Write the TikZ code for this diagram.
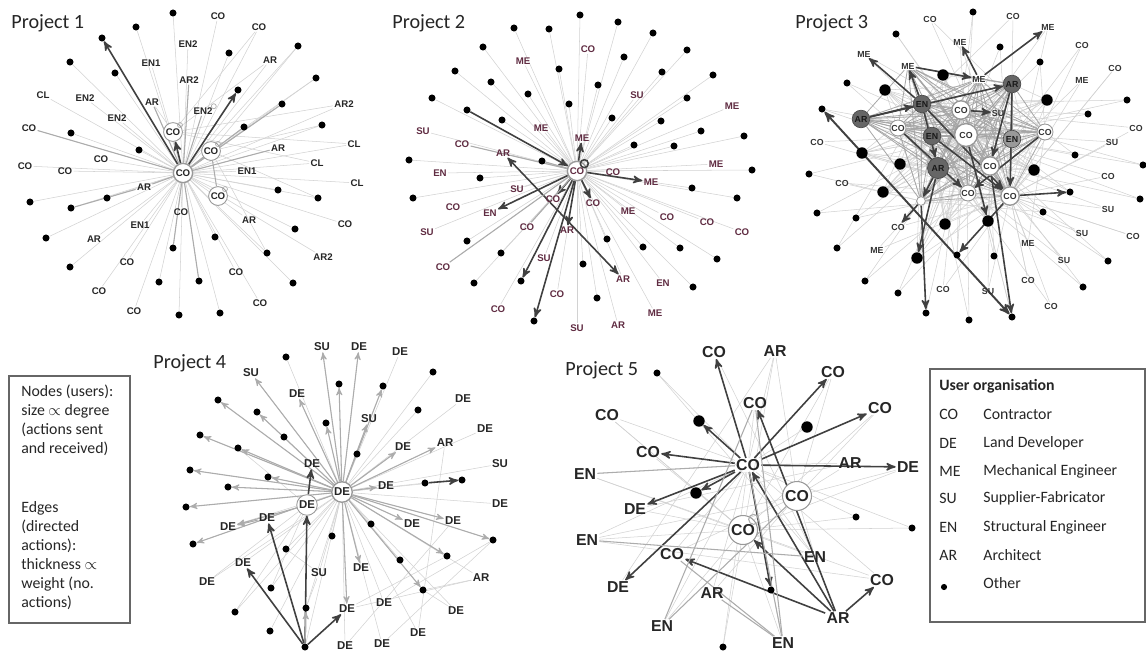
\documentclass[tikz,border=0pt]{standalone}
\usepackage{fontspec}
\setmainfont{Carlito}
\newfontfamily\labfont{Liberation Sans}
\usepackage{amsmath,amssymb}
\usetikzlibrary{arrows}
\definecolor{meplum}{RGB}{96,44,66}
\pgfdeclarelayer{bg}
\pgfdeclarelayer{lite}
\pgfdeclarelayer{heavy}
\pgfsetlayers{bg,lite,heavy,main}
\tikzset{
  >=stealth',
  dot/.style={circle,fill=black,inner sep=0pt,minimum size=4pt},
  bigdot/.style={dot,minimum size=6.5pt},
  labA/.style={font=\labfont\bfseries\fontsize{5.5}{5.5}\selectfont,inner sep=0.6pt,text=black!85},
  labB/.style={labA,text=meplum},
  labC/.style={font=\labfont\bfseries\fontsize{5}{5}\selectfont,inner sep=0.5pt,text=black!80},
  labD/.style={font=\labfont\bfseries\fontsize{6.5}{6.5}\selectfont,inner sep=0.6pt,text=black!85},
  labE/.style={font=\labfont\bfseries\fontsize{9}{9}\selectfont,inner sep=0.6pt,text=black!85},
  hubnode/.style={circle,draw=gray!80,fill=white,line width=0.8pt,inner sep=0.3pt},
  p3dark/.style={circle,fill=black!60,draw=black!70,inner sep=0.3pt,minimum size=10pt,labC,text=black!90},
  p3big/.style={hubnode,minimum size=13pt},
  p3mid/.style={hubnode,minimum size=10.5pt},
  p3small/.style={hubnode,line width=0.5pt},
  p3tiny/.style={hubnode,line width=0.5pt,minimum size=5pt},
  p3darkbig/.style={p3dark,minimum size=12pt},
  p3darklite/.style={p3dark,fill=black!40},
  p3plain/.style={},
  liteedge/.style={draw=gray!35,line width=0.3pt},
  midedge/.style={draw=gray!65,line width=0.6pt},
  midarrow/.style={midedge,->},
  heavyedge/.style={draw=black!75,line width=0.9pt,->},
  projtitle/.style={font=\fontsize{11.5}{12}\selectfont,anchor=west,inner sep=0pt,text=black!85},
  legtext/.style={font=\fontsize{9}{10.8}\selectfont,align=left,anchor=north west,inner sep=0pt,text=black!85},
  legbox/.style={draw=black!60,line width=0.7pt}
}
\begin{document}
\begin{tikzpicture}[x=0.02cm,y=-0.02cm]
\begin{pgfonlayer}{bg}
\fill[white] (0,0) rectangle (1146,653);
\end{pgfonlayer}
\useasboundingbox (0,0) rectangle (1146,653);
%%%%%%%%%%%%%%%% Project 1
\node[projtitle] (t1) at (11,23) {Project 1};
\node[hubnode,labA,minimum size=11pt] (p1hub) at (183,173) {CO};
\node[labA] (p1b) at (203,111) {EN2};
\node[hubnode,labA,line width=0.5pt] (p1c) at (173,132) {CO};
\node[hubnode,labA,line width=0.5pt] (p1e) at (211,151) {CO};
\node[hubnode,labA,line width=0.5pt] (p1f) at (218,196) {CO};
\foreach \x/\y [count=\i] in {173/13,136/27,102/38,70/62,115/73,229/53,298/46,238/90,
  316/78,282/104,244/127,322/125,71/133,139/150,30/202,71/208,107/198,278/190,318/198,
  46/238,215/237,173/248,295/229,267/253,70/267,159/282,199/281,293/283,179/315,220/313}
  \node[dot] (p1d\i) at (\x,\y) {};
\foreach \x/\y/\t [count=\i] in {218/16/CO,259/27/CO,188/44/EN2,151/63/EN1,270/60/AR,
  189/80/AR2,43/95/CL,85/98/EN2,152/102/AR,344/104/AR2,117/118/EN2,29/128/CO,278/148/AR,
  354/144/CL,25/166/CO,101/159/CO,65/171/CO,317/163/CL,247/171/EN1,357/183/CL,144/187/AR,
  181/212/CO,249/220/AR,345/224/CO,140/225/EN1,94/239/AR,323/257/AR2,127/262/CO,
  236/272/CO,99/291/CO,260/303/CO,134/311/CO}
  \node[labA] (p1l\i) at (\x,\y) {\t};
\begin{pgfonlayer}{lite}
\foreach \i in {1,...,30} \draw[liteedge] (p1hub) -- (p1d\i);
\foreach \i in {1,...,32} \draw[liteedge] (p1hub) -- (p1l\i);
\foreach \i in {2,5,9,10,14,18} \draw[liteedge] (p1c) -- (p1l\i);
\foreach \i in {7,9,12,19,24} \draw[liteedge] (p1e) -- (p1d\i);
\end{pgfonlayer}
\begin{pgfonlayer}{heavy}
\foreach \a/\b in {p1hub/p1d3,p1hub/p1c,p1hub/p1d8}
  \draw[heavyedge] (\a) -- (\b);
\foreach \a/\b in {p1hub/p1l6,p1hub/p1b,p1hub/p1l13,p1e/p1f,p1hub/p1d22,p1hub/p1d27,
  p1hub/p1l12,p1d16/p1l21,p1hub/p1e,p1hub/p1l9,p1hub/p1d10,p1hub/p1l21,p1hub/p1d11}
  \draw[midedge] (\a) -- (\b);
\end{pgfonlayer}
\draw[midedge,line width=0.4pt] (p1c.north east) circle[radius=2.5];
\draw[midedge,line width=0.4pt] (p1e.north east) circle[radius=2.5];
\draw[midedge,line width=0.4pt] (p1f.north east) circle[radius=2.5];
\draw[midedge,line width=0.4pt] (p1b.north east) circle[radius=2.5];
%%%%%%%%%%%%%%%% Project 2
\node[projtitle] (t2) at (392,23) {Project 2};
\node[hubnode,labB,minimum size=11pt] (p2hub) at (577,171) {CO};
\foreach \x/\y [count=\i] in {580/15,514/28,549/29,618/22,653/33,483/47,687/50,455/71,
  559/69,624/57,662/72,491/82,598/85,713/75,432/98,528/94,569/104,687/98,467/110,502/120,
  612/118,661/121,701/131,744/136,634/145,674/146,409/160,542/161,752/170,480/178,692/188,
  413/198,737/198,467/241,607/239,643/247,680/248,717/259,501/253,583/264,474/283,521/281,
  597/298,693/287,534/321}
  \node[dot] (p2d\i) at (\x,\y) {};
\foreach \x/\y/\t [count=\i] in {588/49/CO,523/61/ME,637/95/SU,732/106/ME,541/128/ME,
  423/131/SU,582/138/ME,462/144/CO,503/153/AR,716/164/ME,440/173/EN,613/172/CO,651/182/ME,
  517/189/SU,453/207/CO,490/213/EN,553/199/CO,593/203/CO,628/211/ME,667/217/CO,707/222/CO,
  742/232/CO,427/232/SU,527/227/CO,567/230/AR,544/258/SU,443/267/CO,623/279/AR,663/283/EN,
  557/294/CO,498/309/CO,655/313/ME,577/328/SU,618/325/AR}
  \node[labB] (p2l\i) at (\x,\y) {\t};
\begin{pgfonlayer}{lite}
\foreach \i in {1,...,45} \draw[liteedge] (p2hub) -- (p2d\i);
\foreach \i in {1,...,34} \draw[liteedge] (p2hub) -- (p2l\i);
\end{pgfonlayer}
\begin{pgfonlayer}{heavy}
\foreach \a/\b in {p2d19/p2hub,p2hub/p2l7,p2hub/p2l13,p2hub/p2l16,p2hub/p2d42,
  p2hub/p2d45,p2hub/p2l25,p2hub/p2l18,p2hub/p2l17}
  \draw[heavyedge] (\a) -- (\b);
\draw[heavyedge,<->] (p2l9) -- (p2l28);
\foreach \a/\b in {p2l8/p2hub,p2l27/p2hub,p2l24/p2hub,p2d28/p2hub}
  \draw[midedge] (\a) -- (\b);
\end{pgfonlayer}
\draw[heavyedge,-] (p2hub.north east) circle[radius=4];
%%%%%%%%%%%%%%%% Project 3
\node[projtitle] (t3) at (795,23) {Project 3};
\foreach \x/\y/\t/\s [count=\i] in {966/135/CO/p3big,961/110/CO/p3mid,990/166/CO/p3mid,
  1010/196/CO/p3mid,968/193/CO/p3small,1045/132/CO/p3small,898/128/CO/p3small,
  921/201/{}/p3tiny,922/104/EN/p3dark,932/136/EN/p3dark,938/168/AR/p3darkbig,
  1012/84/AR/p3dark,861/119/AR/p3dark,1012/139/EN/p3darklite,
  908/66/ME/p3plain,979/79/ME/p3plain,998/113/SU/p3plain}
  \node[labC,\s] (p3h\i) at (\x,\y) {\t};
\foreach \x/\y/\s [count=\i] in {973/12/dot,896/34/dot,1000/47/dot,943/75/bigdot,
  1040/62/dot,847/83/dot,885/90/bigdot,1127/100/dot,1047/100/bigdot,1088/114/dot,822/109/dot,
  862/153/bigdot,900/164/bigdot,1075/155/dot,1034/170/bigdot,809/174/dot,1143/165/dot,
  883/192/bigdot,1070/192/dot,1140/199/dot,817/213/dot,856/218/dot,945/224/bigdot,
  988/221/bigdot,1043/212/dot,837/248/dot,917/258/bigdot,957/255/dot,994/256/dot,
  1108/261/dot,865/281/dot,898/293/dot,1083/287/dot,926/313/dot,969/320/dot,1012/317/dot}
  \node[\s] (p3d\i) at (\x,\y) {};
\foreach \x/\y/\t [count=\i] in {930/19/CO,1013/16/CO,1048/27/ME,960/42/ME,864/54/ME,
  1082/45/CO,1115/68/CO,1082/80/ME,817/142/CO,1112/142/SU,842/183/CO,1108/176/CO,
  1136/128/CO,1108/209/SU,1133/236/CO,1082/233/SU,1028/243/ME,1064/260/SU,877/250/ME,
  898/227/CO,943/289/CO,988/291/SU,1028/280/CO,1051/306/CO}
  \node[labC] (p3l\i) at (\x,\y) {\t};
\begin{pgfonlayer}{lite}
\foreach \i in {1,...,36} {
  \pgfmathtruncatemacro\k{mod(\i,9)+1}
  \draw[liteedge] (p3h\k) -- (p3d\i);
  \draw[liteedge] (p3h1) -- (p3d\i);
}
\foreach \i in {1,...,24} {
  \pgfmathtruncatemacro\k{mod(\i+4,8)+1}
  \draw[liteedge] (p3h\k) -- (p3l\i);
  \draw[liteedge] (p3h4) -- (p3l\i);
}
\foreach \i in {4,7,9,12,13,15,18,23,24,27}
  \foreach \j in {1,2,3,4,9,10,11,12}
    \draw[liteedge] (p3h\j) -- (p3d\i);
\end{pgfonlayer}
\begin{pgfonlayer}{heavy}
\foreach \i in {1,...,17}
  \foreach \j in {\i,...,17} {
    \ifnum\i<\j \draw[midedge,line width=0.45pt,draw=gray!70] (p3h\i) -- (p3h\j); \fi
  }
\foreach \a/\b in {p3h9/p3l5,p3h15/p3h16,p3h16/p3l3,p3h16/p3l4,p3h9/p3h4,p3h13/p3h12,
  p3h11/p3h8,p3h8/p3d34,p3h8/p3l20,p3h12/p3h4,p3h4/p3d19,p3h9/p3h11,p3h10/p3h4,
  p3h13/p3h9,p3h2/p3h17,p3h4/p3d28,p3h1/p3d24,p3h11/p3d27,p3h9/p3h15,p3h12/p3h3,
  p3h7/p3h5,p3h6/p3h5,p3h3/p3d36}
  \draw[heavyedge] (\a) -- (\b);
\draw[heavyedge,<->,line width=1.1pt] (p3d11) -- (p3d36);
\end{pgfonlayer}
%%%%%%%%%%%%%%%% Project 4
\node[projtitle] (t4) at (153,363) {Project 4};
\node[hubnode,labD,minimum size=11pt] (p4hub) at (342,492) {DE};
\node[hubnode,labD,line width=0.5pt] (p4s1) at (307,505) {DE};
\node[labD] (p4s2) at (312,464) {DE};
\foreach \x/\y [count=\i] in {286/357,433/372,339/384,383/386,218/400,257/412,418/410,
  326/423,200/435,284/437,238/448,357/454,190/470,268/477,228/487,425/483,462/480,
  186/507,371/524,332/536,493/540,193/544,286/549,447/556,400/560,423/590,271/588,
  306/608,235/612,270/631,305/647}
  \node[dot] (p4d\i) at (\x,\y) {};
\foreach \x/\y/\t [count=\i] in {322/347/SU,359/347/DE,400/352/DE,251/373/SU,297/394/DE,
  463/399/DE,369/419/SU,485/429/DE,403/447/DE,445/443/AR,500/464/SU,386/486/DE,500/504/DE,
  267/518/DE,228/527/DE,412/524/DE,453/521/DE,243/563/DE,319/573/SU,361/568/DE,207/582/DE,
  481/578/AR,347/609/DE,384/603/DE,456/611/DE,418/633/DE,345/646/DE,382/644/DE}
  \node[labD] (p4l\i) at (\x,\y) {\t};
\begin{pgfonlayer}{lite}
\foreach \i in {1,...,31} \draw[liteedge] (p4hub) -- (p4d\i);
\foreach \i in {1,...,28} \draw[liteedge] (p4hub) -- (p4l\i);
\foreach \a/\b in {p4l23/p4l22,p4l23/p4d24,p4d26/p4l25,p4l19/p4d28,p4l28/p4d21,
  p4l27/p4l17,p4l26/p4l10,p4d26/p4l22,p4l24/p4d21,p4s1/p4d27,p4s1/p4d29,p4l21/p4s1,
  p4d6/p4s2,p4d11/p4s1,p4l19/p4d23}
  \draw[liteedge] (\a) -- (\b);
\end{pgfonlayer}
\begin{pgfonlayer}{heavy}
\foreach \b in {p4l1,p4l2,p4l4,p4l5,p4l7,p4l9,p4l10,p4l12,p4l16,p4l17,p4l20,p4l23,
  p4d3,p4d4,p4d5,p4d6,p4d9,p4d11,p4d13,p4d15,p4d18,p4d21,p4d24,p4d26,p4d22,p4d8,p4d14}
  \draw[midarrow] (p4hub) -- (\b);
\foreach \a/\b in {p4d31/p4l18,p4d31/p4l14,p4d31/p4s1,p4d31/p4l23,p4s1/p4s2,p4d16/p4d17}
  \draw[heavyedge] (\a) -- (\b);
\foreach \a/\b in {p4s1/p4l15,p4l14/p4l15,p4d31/p4d28}
  \draw[midarrow] (\a) -- (\b);
\end{pgfonlayer}
%%%%%%%%%%%%%%%% Project 5
\node[projtitle] (t5) at (565,370) {Project 5};
\node[labE] (p5hub) at (748,465) {CO};
\node[hubnode,labE,line width=0.6pt,minimum size=12pt] (p5c1) at (797,496) {CO};
\node[hubnode,labE,line width=0.6pt,minimum size=16pt] (p5c2) at (743,530) {CO};
\foreach \x/\y/\s [count=\i] in {657/373/dot,699/421/bigdot,807/427/bigdot,696/493/bigdot,
  856/517/dot,912/528/dot,771/590/dot,723/647/dot}
  \node[\s] (p5d\i) at (\x,\y) {};
\foreach \x/\y/\t [count=\i] in {714/352/CO,775/351/AR,833/372/CO,607/415/CO,755/403/CO,
  880/408/CO,648/452/CO,850/463/AR,908/467/DE,585/474/EN,635/509/DE,587/540/EN,672/554/CO,
  815/557/EN,618/587/DE,712/593/AR,882/580/CO,838/618/AR,662/626/EN,783/643/EN}
  \node[labE] (p5l\i) at (\x,\y) {\t};
\begin{pgfonlayer}{lite}
\foreach \i in {1,...,8} \draw[liteedge] (p5hub) -- (p5d\i);
\foreach \i in {1,...,20} \draw[liteedge] (p5hub) -- (p5l\i);
\foreach \i in {3,4,6,7,9,10,11,12,17,19,20} \draw[liteedge] (p5c2) -- (p5l\i);
\foreach \i in {2,3,6,8,9,12,13,14,16} \draw[liteedge] (p5c1) -- (p5l\i);
\foreach \a/\b in {p5l1/p5l14,p5l2/p5l15,p5d1/p5l14,p5l4/p5c2,p5c2/p5d5,p5c2/p5d6,
  p5l10/p5l14,p5l12/p5l17,p5l8/p5l11,p5l2/p5d8}
  \draw[liteedge] (\a) -- (\b);
\end{pgfonlayer}
\begin{pgfonlayer}{heavy}
\foreach \b in {p5l1,p5l3,p5l6,p5l7,p5l9,p5l11,p5l15,p5d2,p5d4,p5d7}
  \draw[heavyedge] (p5hub) -- (\b);
\foreach \b in {p5l5,p5hub,p5l17,p5c2,p5l13}
  \draw[heavyedge] (p5l18) -- (\b);
\foreach \a/\b in {p5l10/p5hub,p5l19/p5c1,p5l20/p5l13,p5l20/p5hub,p5l20/p5l5,
  p5l16/p5l20,p5l12/p5l14,p5l19/p5l5}
  \draw[midedge] (\a) -- (\b);
\end{pgfonlayer}
\draw[midedge] (p5c2.north east) circle[radius=5];
%%%%%%%%%%%%%%%% legends
\draw[legbox] (9,376) rectangle (130,623);
\node[legtext] (leg1) at (21,385) {Nodes (users):\\ size $\propto$ degree\\ (actions sent\\ and received)};
\node[legtext] (leg2) at (21,501) {Edges\\ (directed\\ actions):\\ thickness $\propto$\\ weight (no.\\ actions)};
%%%%%%%%%%%%%%%%
\draw[legbox] (930,369) rectangle (1145,622);
\node[legtext,anchor=west,font=\bfseries\fontsize{9}{10.8}\selectfont] (leghd) at (939,386) {User organisation};
\foreach \y/\c/\t [count=\i] in {414/CO/Contractor,443/DE/Land Developer,
  471/ME/Mechanical Engineer,498/SU/Supplier-Fabricator,527/EN/Structural Engineer,
  555/AR/Architect}{
  \node[legtext,anchor=west] (lc\i) at (939,\y) {\c};
  \node[legtext,anchor=west] (ln\i) at (983,\y) {\t};
}
\node[dot,minimum size=3.5pt] (lcdot) at (944,587) {};
\node[legtext,anchor=west] (lndot) at (983,583) {Other};
\end{tikzpicture}
\end{document}
